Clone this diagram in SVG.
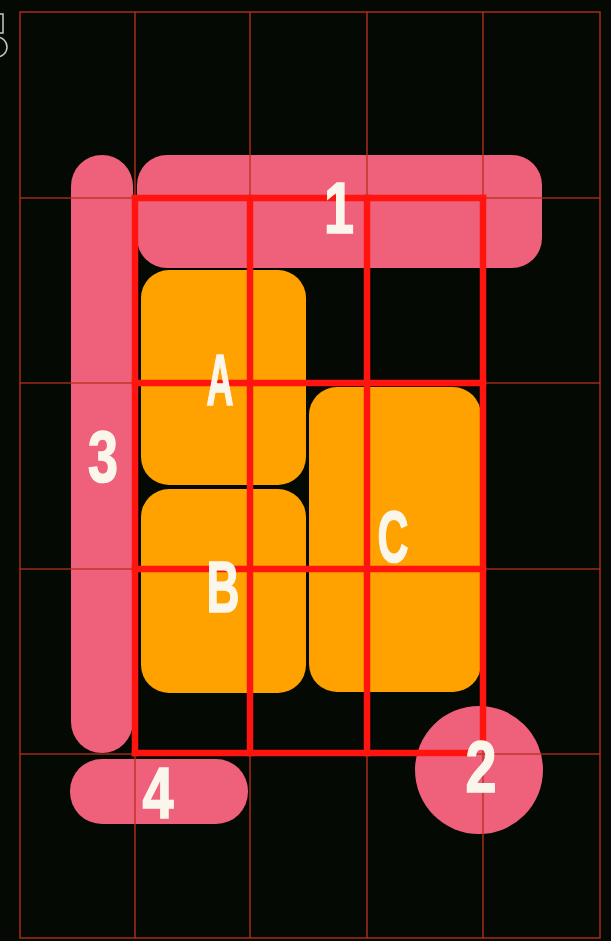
<svg xmlns="http://www.w3.org/2000/svg" width="611" height="941" viewBox="0 0 611 941">
<style>
.pink{fill:#ef607a}
.orange{fill:#ffa200}
.thin{stroke:#b8301c;stroke-width:1.6;fill:none;opacity:0.85}
.thick{stroke:#ff1410;stroke-width:6.5;fill:none;stroke-linecap:square}
.lbl{fill:#fbf6ec;stroke:#fbf6ec;stroke-width:1.6;font-family:"Liberation Sans","DejaVu Sans",sans-serif;font-weight:bold;font-size:72px;text-anchor:middle}
.mark{fill:none;stroke:#c8c8c8;stroke-width:1.5}
</style>
<rect x="0" y="0" width="611" height="941" fill="#040904"/>
<g id="edge-marks">
<rect class="mark" x="-6" y="14" width="9" height="19"/>
<circle class="mark" cx="-3" cy="47" r="10"/>
</g>
<g id="bar-1"><rect class="pink" x="137" y="155" width="405" height="113" rx="30"/></g>
<g id="bar-3"><rect class="pink" x="71" y="155" width="62" height="598" rx="31"/></g>
<g id="bar-4"><rect class="pink" x="70" y="759" width="178" height="65" rx="32"/></g>
<g id="circle-2"><circle class="pink" cx="479" cy="770" r="64"/></g>
<g id="box-A"><rect class="orange" x="141" y="270" width="165" height="215" rx="28"/></g>
<g id="box-B"><rect class="orange" x="141" y="489" width="165" height="204" rx="28"/></g>
<g id="box-C"><rect class="orange" x="309" y="387" width="172" height="305" rx="28"/></g>
<g id="connectors">
<g id="grid-thin">
<rect class="thin" x="20" y="12" width="580" height="926"/>
<line class="thin" x1="135" y1="12" x2="135" y2="938"/>
<line class="thin" x1="250" y1="12" x2="250" y2="938"/>
<line class="thin" x1="367" y1="12" x2="367" y2="938"/>
<line class="thin" x1="483" y1="12" x2="483" y2="938"/>
<line class="thin" x1="20" y1="198" x2="600" y2="198"/>
<line class="thin" x1="20" y1="383" x2="600" y2="383"/>
<line class="thin" x1="20" y1="569" x2="600" y2="569"/>
<line class="thin" x1="20" y1="754" x2="600" y2="754"/>
</g>
<g id="grid-thick">
<line class="thick" x1="135" y1="198" x2="135" y2="753"/>
<line class="thick" x1="250" y1="198" x2="250" y2="753"/>
<line class="thick" x1="367" y1="198" x2="367" y2="753"/>
<line class="thick" x1="483" y1="198" x2="483" y2="738"/>
<line class="thick" x1="135" y1="198" x2="483" y2="198"/>
<line class="thick" x1="135" y1="383" x2="483" y2="383"/>
<line class="thick" x1="135" y1="569" x2="483" y2="569"/>
<line class="thick" x1="135" y1="753" x2="470" y2="753"/>
</g>
</g>
<g id="labels">
<text class="lbl" x="339" y="233" textLength="30" lengthAdjust="spacingAndGlyphs">1</text>
<text class="lbl" x="220" y="405" textLength="27" lengthAdjust="spacingAndGlyphs">A</text>
<text class="lbl" x="103" y="482" textLength="30" lengthAdjust="spacingAndGlyphs">3</text>
<text class="lbl" x="393" y="562" textLength="31" lengthAdjust="spacingAndGlyphs">C</text>
<text class="lbl" x="223" y="612" textLength="33" lengthAdjust="spacingAndGlyphs">B</text>
<text class="lbl" x="158" y="818" textLength="31" lengthAdjust="spacingAndGlyphs">4</text>
<text class="lbl" x="481" y="792" textLength="31" lengthAdjust="spacingAndGlyphs">2</text>
</g>
</svg>
